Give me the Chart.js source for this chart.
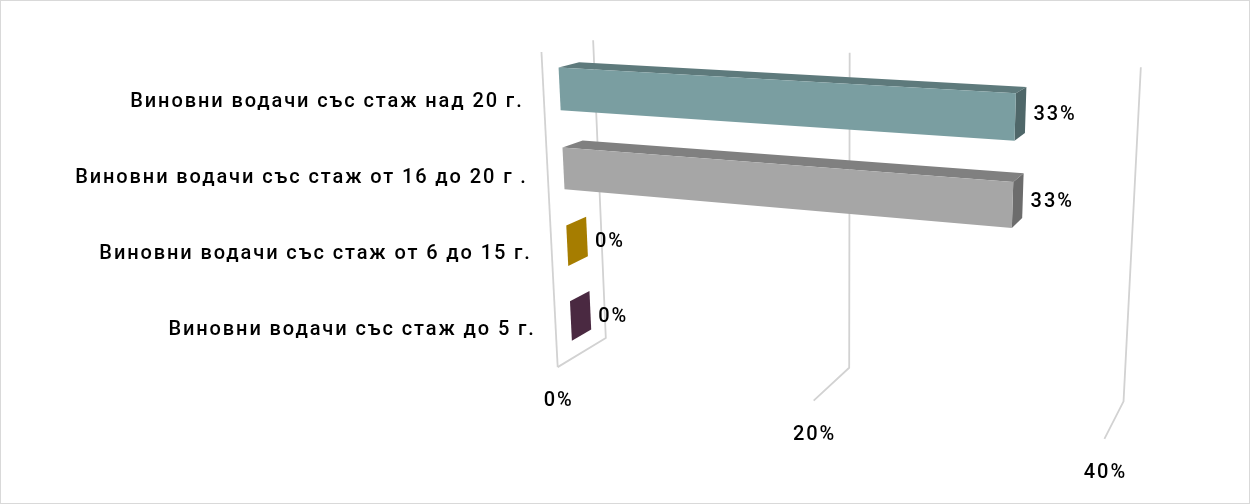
<!DOCTYPE html>
<html lang="bg">
<head>
<meta charset="UTF-8">
<title>Виновни водачи по стаж</title>
<script src="https://cdn.jsdelivr.net/npm/chart.js@4.4.1/dist/chart.umd.min.js"></script>
<style>
  body { margin: 0; background: #fff; }
  #wrap { width: 1250px; height: 504px; position: relative; }
</style>
</head>
<body>
<div id="wrap"><canvas id="chart"></canvas></div>
<script>
const categories = [
  'Виновни водачи със стаж над 20 г.',
  'Виновни водачи със стаж от 16 до 20 г .',
  'Виновни водачи със стаж от 6 до 15 г.',
  'Виновни водачи със стаж до 5 г.'
];
const shares = [33, 33, 0, 0];
const barColors = ['#7A9EA1', '#A6A6A6', '#FFC000', '#723F64'];
const xTicks = [0, 20, 40];

// plot box in 3D: x = value (0..1), y = category (0 top .. 1 bottom), z = depth (0 front .. 1 back)
// each row: box point, then where it lands on the page. The camera is solved from these.
const boxCorners = [
  [0, 0, 0, 541.7, 52.7],
  [0, 1, 0, 557.3, 366],
  [0, 0, 1, 592.7, 40],
  [0, 1, 1, 606, 339.3],
  [0.5, 1, 0, 813.3, 400.7],
  [0.5, 1, 1, 850, 366.7],
  [0.5, 0, 1, 850, 52.3],
  [1, 1, 0, 1105, 439.3],
  [1, 1, 1, 1122.7, 401.7],
  [1, 0, 1, 1140.7, 67.3]
];
const BAR_FRONT = 0.3, BAR_BACK = 0.7;
const FONT = '500 20px Roboto';

// least squares for the 3x4 projection (last entry fixed to 1)
function solveCamera(pts) {
  const N = 11;
  const ata = Array.from({ length: N }, () => new Array(N).fill(0));
  const atb = new Array(N).fill(0);
  const addRow = (row, rhs) => {
    for (let i = 0; i < N; i++) {
      atb[i] += row[i] * rhs;
      for (let j = 0; j < N; j++) ata[i][j] += row[i] * row[j];
    }
  };
  pts.forEach(([X, Y, Z, px, py]) => {
    const u = (px - 800) / 400, v = (py - 250) / 400;
    addRow([X, Y, Z, 1, 0, 0, 0, 0, -u * X, -u * Y, -u * Z], u);
    addRow([0, 0, 0, 0, X, Y, Z, 1, -v * X, -v * Y, -v * Z], v);
  });
  for (let c = 0; c < N; c++) {
    let p = c;
    for (let r = c + 1; r < N; r++) if (Math.abs(ata[r][c]) > Math.abs(ata[p][c])) p = r;
    [ata[c], ata[p]] = [ata[p], ata[c]];
    [atb[c], atb[p]] = [atb[p], atb[c]];
    for (let r = c + 1; r < N; r++) {
      const f = ata[r][c] / ata[c][c];
      for (let k = c; k < N; k++) ata[r][k] -= f * ata[c][k];
      atb[r] -= f * atb[c];
    }
  }
  const m = new Array(N).fill(0);
  for (let r = N - 1; r >= 0; r--) {
    let s = atb[r];
    for (let k = r + 1; k < N; k++) s -= ata[r][k] * m[k];
    m[r] = s / ata[r][r];
  }
  return m;
}

const cam = solveCamera(boxCorners);

function project(x, y, z) {
  const w = cam[8] * x + cam[9] * y + cam[10] * z + 1;
  return {
    x: 800 + 400 * (cam[0] * x + cam[1] * y + cam[2] * z + cam[3]) / w,
    y: 250 + 400 * (cam[4] * x + cam[5] * y + cam[6] * z + cam[7]) / w
  };
}

function shade(hex, f) {
  const n = parseInt(hex.slice(1), 16);
  const r = Math.round(((n >> 16) & 255) * f);
  const g = Math.round(((n >> 8) & 255) * f);
  const b = Math.round((n & 255) * f);
  return `rgb(${r},${g},${b})`;
}

function polyline(ctx, pts) {
  ctx.beginPath();
  pts.forEach((p, i) => {
    const q = project(p[0], p[1], p[2]);
    if (i === 0) ctx.moveTo(q.x, q.y); else ctx.lineTo(q.x, q.y);
  });
  ctx.stroke();
}

function face(ctx, pts, color) {
  ctx.beginPath();
  pts.forEach((p, i) => {
    const q = project(p[0], p[1], p[2]);
    if (i === 0) ctx.moveTo(q.x, q.y); else ctx.lineTo(q.x, q.y);
  });
  ctx.closePath();
  ctx.fillStyle = color;
  ctx.fill();
}

// draws the bars as 3D boxes in place of the flat ones
const box3d = {
  id: 'box3d',
  beforeDraw(chart) {
    const ctx = chart.ctx;
    ctx.save();
    ctx.strokeStyle = '#d9d9d9';
    ctx.lineWidth = 1;
    ctx.strokeRect(0.5, 0.5, chart.width - 1, chart.height - 1);
    ctx.restore();
  },
  beforeDatasetsDraw(chart) {
    const { ctx, chartArea: a } = chart;
    const xs = chart.scales.x, ys = chart.scales.y;
    const nx = px => (px - a.left) / (a.right - a.left);
    const ny = py => (py - a.top) / (a.bottom - a.top);

    ctx.save();
    // value gridlines on back wall and floor, then the category axis
    ctx.strokeStyle = '#d2d2d2';
    ctx.lineWidth = 1.8;
    ctx.lineJoin = 'round';
    xTicks.forEach(t => {
      const x = nx(xs.getPixelForValue(t));
      polyline(ctx, [[x, 0, 1], [x, 1, 1], [x, 1, 0]]);
    });
    polyline(ctx, [[0, 0, 0], [0, 1, 0]]);

    const F = BAR_FRONT, B = BAR_BACK;
    const meta = chart.getDatasetMeta(0);
    ctx.font = FONT;
    ctx.letterSpacing = '1.9px';
    meta.data.forEach((bar, i) => {
      const { x, y, base, height } = bar.getProps(['x', 'y', 'base', 'height'], true);
      const x0 = nx(base), x1 = nx(x);
      const y0 = ny(y - height / 2), y1 = ny(y + height / 2);
      const c = barColors[i];
      face(ctx, [[x0, y0, F], [x1, y0, F], [x1, y0, B], [x0, y0, B]], shade(c, 0.77));
      face(ctx, [[x1, y0, F], [x1, y0, B], [x1, y1, B], [x1, y1, F]], shade(c, 0.65));
      if (x1 > x0) face(ctx, [[x0, y0, F], [x1, y0, F], [x1, y1, F], [x0, y1, F]], c);

      // value label just past the end of the box
      const ends = [[x1, y0, F], [x1, y0, B], [x1, y1, B], [x1, y1, F]].map(p => project(p[0], p[1], p[2]));
      const right = Math.max(...ends.map(p => p.x));
      const top = Math.min(...ends.map(p => p.y));
      const bottom = Math.max(...ends.map(p => p.y));
      ctx.fillStyle = '#000';
      ctx.textAlign = 'left';
      ctx.textBaseline = 'middle';
      ctx.fillText(shares[i] + '%', right + 7, (top + bottom) / 2 + 1);
    });

    // category labels along the front axis
    ctx.textAlign = 'right';
    categories.forEach((label, i) => {
      const py = ys.getPixelForValue(i);
      const q = project(0, ny(py), 0);
      ctx.fillText(label, q.x - 20, py + 1);
    });

    // value ticks under the floor's front edge
    ctx.textAlign = 'center';
    xTicks.forEach(t => {
      const q = project(nx(xs.getPixelForValue(t)), 1, 0);
      ctx.fillText(t + '%', q.x + 1, q.y + 34);
    });
    ctx.restore();
    return false;
  }
};

new Chart(document.getElementById('chart'), {
  type: 'bar',
  data: {
    labels: categories,
    datasets: [{
      data: shares,
      backgroundColor: barColors,
      barPercentage: 0.53,
      categoryPercentage: 1
    }]
  },
  options: {
    indexAxis: 'y',
    responsive: true,
    maintainAspectRatio: false,
    animation: false,
    layout: { padding: { left: 540, right: 110, top: 63, bottom: 137 } },
    plugins: { legend: { display: false }, tooltip: { enabled: false } },
    scales: {
      x: { display: false, min: 0, max: 40 },
      y: { display: false }
    }
  },
  plugins: [box3d]
});
</script>
</body>
</html>
